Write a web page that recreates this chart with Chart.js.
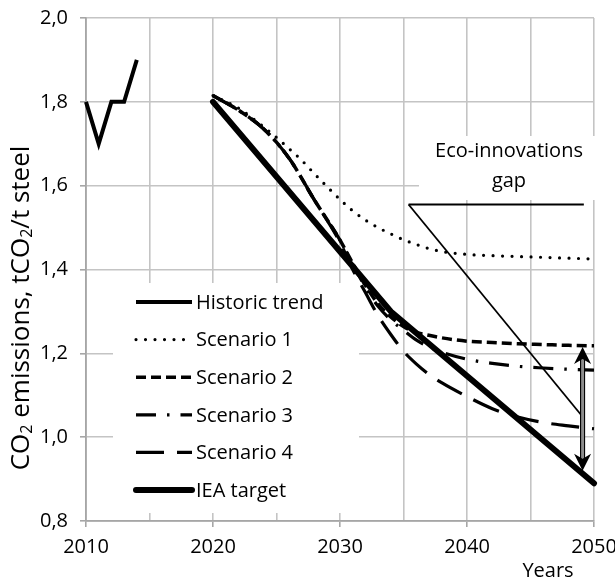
<!DOCTYPE html>
<html>
<head>
<meta charset="utf-8">
<script src="https://cdn.jsdelivr.net/npm/chart.js@4.4.1/dist/chart.umd.min.js"></script>
<style>
  html, body { margin: 0; padding: 0; background: #fff; }
  #wrap { width: 615px; height: 583px; position: relative; }
</style>
</head>
<body>
<div id="wrap"><canvas id="chart"></canvas></div>
<script>
// Emission intensity, tCO2 per tonne of steel
const historicYears = [2010, 2011, 2012, 2013, 2014];
const historicValues = [1.80, 1.70, 1.80, 1.80, 1.90];

const scenario1Years = [2020, 2022, 2024, 2025, 2026, 2027, 2028, 2029, 2030, 2031, 2032,
                        2033, 2034, 2035, 2036, 2037, 2038, 2040, 2042, 2045, 2050];
const scenario1Values = [1.815, 1.785, 1.740, 1.715, 1.688, 1.660, 1.628, 1.597, 1.567, 1.540, 1.518,
                         1.500, 1.485, 1.471, 1.460, 1.450, 1.443, 1.436, 1.433, 1.430, 1.425];

const scenarioYears = [2020, 2022, 2024, 2026, 2028, 2030, 2031, 2032, 2033, 2034,
                       2035, 2036, 2037, 2038, 2040, 2042, 2044, 2046, 2048, 2050];
const scenario2Values = [1.815, 1.780, 1.735, 1.665, 1.565, 1.470, 1.415, 1.362, 1.318, 1.287,
                         1.264, 1.250, 1.243, 1.237, 1.229, 1.226, 1.223, 1.221, 1.219, 1.218];
const scenario3Values = [1.815, 1.780, 1.735, 1.665, 1.565, 1.470, 1.413, 1.358, 1.312, 1.280,
                         1.255, 1.232, 1.215, 1.203, 1.186, 1.176, 1.169, 1.165, 1.162, 1.160];
const scenario4Values = [1.815, 1.780, 1.735, 1.665, 1.565, 1.465, 1.400, 1.345, 1.290, 1.245,
                         1.205, 1.175, 1.150, 1.130, 1.097, 1.068, 1.048, 1.035, 1.027, 1.020];

const targetYears = [2020, 2030, 2034, 2050];
const targetValues = [1.800, 1.443, 1.300, 0.890];

// Eco-innovations gap wedge and the double arrow between scenario 2 and the target
const gapYears = [2035.4, 2049.2];
const gapUpperValues = [1.555, 1.555];
const gapLowerValues = [1.555, 1.045];
const arrowYear = 2049.1;
const arrowTop = 1.215;
const arrowBottom = 0.92;

const seriesLabels = ['Historic trend', 'Scenario 1', 'Scenario 2', 'Scenario 3', 'Scenario 4', 'IEA target'];
const gapLabelLines = ['Eco-innovations', 'gap'];
const xAxisTitle = 'Years';

const FONT = "'Open Sans', 'Noto Sans', sans-serif";
Chart.defaults.font.family = FONT;
Chart.defaults.color = '#000';

const pts = (xs, ys) => xs.map((x, i) => ({ x, y: ys[i] }));

function lineSet(label, xs, ys, style) {
  return Object.assign({
    label,
    data: pts(xs, ys),
    borderColor: '#000',
    backgroundColor: '#000',
    pointRadius: 0,
    pointHoverRadius: 0,
    fill: false,
    tension: 0,
    clip: false,
    borderCapStyle: 'butt',
    borderJoinStyle: 'round'
  }, style);
}

const datasets = [
  lineSet(seriesLabels[0], historicYears, historicValues, { borderWidth: 4, borderJoinStyle: 'miter' }),
  lineSet(seriesLabels[1], scenario1Years, scenario1Values, {
    borderWidth: 3.2, borderDash: [0, 9.5], borderCapStyle: 'round', cubicInterpolationMode: 'monotone'
  }),
  lineSet(seriesLabels[2], scenarioYears, scenario2Values, {
    borderWidth: 3.5, borderDash: [10, 5], cubicInterpolationMode: 'monotone'
  }),
  lineSet(seriesLabels[3], scenarioYears, scenario3Values, {
    borderWidth: 3.2, borderDash: [20, 11, 2.5, 11], cubicInterpolationMode: 'monotone'
  }),
  lineSet(seriesLabels[4], scenarioYears, scenario4Values, {
    borderWidth: 3.2, borderDash: [28, 13], cubicInterpolationMode: 'monotone'
  }),
  lineSet(seriesLabels[5], targetYears, targetValues, { borderWidth: 6, borderCapStyle: 'round' }),
  lineSet('', gapYears, gapUpperValues, { borderWidth: 2, inLegend: false }),
  lineSet('', gapYears, gapLowerValues, { borderWidth: 1.8, inLegend: false })
];

// Draws text with "2" subscripts (CO₂) along the current baseline
function drawRich(ctx, parts, size, x, y) {
  let cx = x;
  parts.forEach(p => {
    const s = p.sub ? size * 0.62 : size;
    ctx.font = s + 'px ' + FONT;
    ctx.fillText(p.t, cx, y + (p.sub ? size * 0.22 : 0));
    cx += ctx.measureText(p.t).width;
  });
}
function richWidth(ctx, parts, size) {
  let w = 0;
  parts.forEach(p => {
    ctx.font = (p.sub ? size * 0.62 : size) + 'px ' + FONT;
    w += ctx.measureText(p.t).width;
  });
  return w;
}

const yTitleParts = [
  { t: 'CO' }, { t: '2', sub: true }, { t: ' emissions, tCO' }, { t: '2', sub: true }, { t: '/t steel' }
];

const decorations = {
  id: 'decorations',
  beforeDatasetsDraw(chart) {
    const ctx = chart.ctx;
    ctx.save();
    ctx.fillStyle = '#fff';
    ctx.fillRect(113, 283, 246, 230);   // legend panel
    ctx.fillRect(419, 136, 184, 64);    // gap label panel
    ctx.restore();
  },
  afterDatasetsDraw(chart) {
    const ctx = chart.ctx;
    const xs = chart.scales.x, ys = chart.scales.y;

    // double arrow
    const ax = xs.getPixelForValue(arrowYear);
    const yTop = ys.getPixelForValue(arrowTop);
    const yBot = ys.getPixelForValue(arrowBottom);
    const head = 17, half = 8.5, notch = 5;
    ctx.save();
    ctx.fillStyle = '#8c8c8c';
    ctx.fillRect(ax - 2, yTop + head - notch, 4, (yBot - yTop) - 2 * (head - notch));
    ctx.strokeStyle = '#000';
    ctx.lineWidth = 1.1;
    ctx.beginPath();
    ctx.moveTo(ax - 2, yTop + head - notch); ctx.lineTo(ax - 2, yBot - head + notch);
    ctx.moveTo(ax + 2, yTop + head - notch); ctx.lineTo(ax + 2, yBot - head + notch);
    ctx.stroke();
    ctx.fillStyle = '#000';
    ctx.beginPath();
    ctx.moveTo(ax, yTop);
    ctx.lineTo(ax + half, yTop + head);
    ctx.lineTo(ax, yTop + head - notch);
    ctx.lineTo(ax - half, yTop + head);
    ctx.closePath();
    ctx.fill();
    ctx.beginPath();
    ctx.moveTo(ax, yBot);
    ctx.lineTo(ax + half, yBot - head);
    ctx.lineTo(ax, yBot - head + notch);
    ctx.lineTo(ax - half, yBot - head);
    ctx.closePath();
    ctx.fill();
    ctx.restore();
  },
  afterDraw(chart) {
    const ctx = chart.ctx;
    ctx.save();
    ctx.fillStyle = '#000';
    ctx.textBaseline = 'middle';

    // legend
    const items = chart.data.datasets.filter(d => d.inLegend !== false);
    const x0 = 136, x1 = 192, yStart = 302, step = 37.6;
    items.forEach((d, i) => {
      const y = yStart + i * step;
      ctx.save();
      ctx.strokeStyle = d.borderColor;
      ctx.lineWidth = d.borderWidth;
      ctx.lineCap = d.borderCapStyle || 'butt';
      ctx.setLineDash(d.borderDash || []);
      ctx.beginPath();
      ctx.moveTo(x0, y);
      ctx.lineTo(x1, y);
      ctx.stroke();
      ctx.restore();
      ctx.font = '20px ' + FONT;
      ctx.textAlign = 'left';
      ctx.fillText(d.label, 196, y + 1);
    });

    // gap label
    ctx.font = '20px ' + FONT;
    ctx.textAlign = 'center';
    ctx.fillText(gapLabelLines[0], 509, 151);
    ctx.fillText(gapLabelLines[1], 509, 181);

    // x axis title
    ctx.fillText(xAxisTitle, 548, 571);

    // y axis title (rotated)
    const size = 26;
    const w = richWidth(ctx, yTitleParts, size);
    ctx.translate(22, 308);
    ctx.rotate(-Math.PI / 2);
    ctx.textAlign = 'left';
    drawRich(ctx, yTitleParts, size, -w / 2, 0);
    ctx.restore();
  }
};

const gridColor = '#c4c4c4';
const axisColor = '#a6a6a6';

new Chart(document.getElementById('chart'), {
  type: 'line',
  data: { datasets },
  options: {
    responsive: true,
    maintainAspectRatio: false,
    animation: false,
    layout: { padding: { left: 0, right: 21, top: 18, bottom: 0 } },
    plugins: { legend: { display: false }, tooltip: { enabled: false } },
    scales: {
      x: {
        type: 'linear',
        min: 2010,
        max: 2050,
        ticks: {
          stepSize: 5,
          autoSkip: false,
          maxRotation: 0,
          padding: 8,
          font: { size: 20 },
          color: '#000',
          callback: v => (v % 10 === 0 ? String(v) : '')
        },
        grid: {
          color: gridColor,
          lineWidth: 1.6,
          tickLength: 6,
          tickColor: c => (c.tick && c.tick.value % 10 === 0 ? axisColor : 'rgba(0,0,0,0)')
        },
        border: { color: axisColor, width: 1.8 },
        afterFit: s => { s.height = 62; s.paddingLeft = 0; s.paddingRight = 0; }
      },
      y: {
        type: 'linear',
        min: 0.8,
        max: 2.0,
        ticks: {
          stepSize: 0.2,
          padding: 12,
          font: { size: 20 },
          color: '#000',
          callback: v => v.toFixed(1).replace('.', ',')
        },
        grid: { color: gridColor, lineWidth: 1.6, tickLength: 6, tickColor: axisColor },
        border: { color: axisColor, width: 1.8 },
        afterFit: s => { s.width = 86; s.paddingTop = 0; s.paddingBottom = 0; }
      }
    }
  },
  plugins: [decorations]
});
</script>
</body>
</html>
